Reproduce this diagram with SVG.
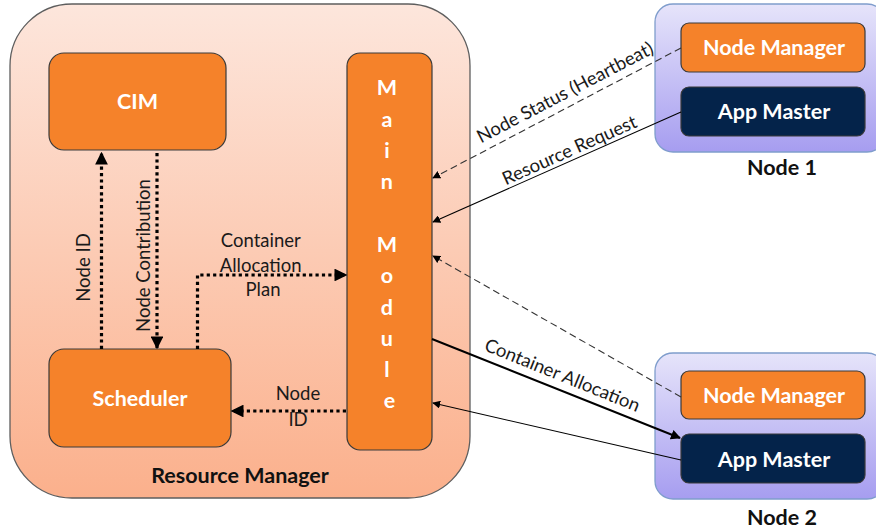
<svg xmlns="http://www.w3.org/2000/svg" width="876" height="531" viewBox="0 0 876 531">
  <defs>
    <linearGradient id="rmFill" x1="0" y1="0" x2="0" y2="1">
      <stop offset="0" stop-color="#fde6dc"/>
      <stop offset="1" stop-color="#fbb08c"/>
    </linearGradient>
    <linearGradient id="nodeFill" x1="0" y1="0" x2="0" y2="1">
      <stop offset="0" stop-color="#e6e4fa"/>
      <stop offset="1" stop-color="#a69df0"/>
    </linearGradient>
    <marker id="ahDot" viewBox="0 0 10 10" refX="9" refY="5" markerWidth="4" markerHeight="4" markerUnits="strokeWidth" orient="auto">
      <path d="M0,0 L10,5 L0,10 z" fill="#000"/>
    </marker>
    <marker id="ahThin" viewBox="0 0 10 10" refX="9" refY="5" markerWidth="8" markerHeight="8" markerUnits="userSpaceOnUse" orient="auto">
      <path d="M0,0 L10,5 L0,10 z" fill="#000"/>
    </marker>
    <marker id="ahThick" viewBox="0 0 10 10" refX="9" refY="5" markerWidth="10" markerHeight="10" markerUnits="userSpaceOnUse" orient="auto">
      <path d="M0,0 L10,5 L0,10 z" fill="#000"/>
    </marker>
  </defs>
  <style>
    .box { fill: #f5822a; stroke: #3a3a3a; stroke-width: 1.2; }
    .navy { fill: #04234a; stroke: #3a3a3a; stroke-width: 1.2; }
    .wlabel { font-family: Lato, "Open Sans", sans-serif; font-weight: bold; font-size: 21.5px; fill: #ffffff; text-anchor: middle; }
    .blabel { font-family: Lato, "Open Sans", sans-serif; font-weight: bold; font-size: 21.5px; fill: #111111; text-anchor: middle; }
    .elabel { font-family: Lato, "Open Sans", sans-serif; font-size: 18.5px; fill: #1a1a1a; text-anchor: middle; }
    .dotted { fill: none; stroke: #000; stroke-width: 3.2; stroke-dasharray: 3.2 3.2; }
    .dashed { fill: none; stroke: #333; stroke-width: 1.1; stroke-dasharray: 7 4; }
    .solid { fill: none; stroke: #000; stroke-width: 1.1; }
    .bold { fill: none; stroke: #000; stroke-width: 2; }
  </style>

  <!-- Resource Manager container -->
  <g id="resource-manager">
    <rect x="10" y="4" width="460" height="494" rx="62" fill="url(#rmFill)" stroke="#5e5e5e" stroke-width="1.3"/>
    <text class="blabel" x="240" y="483">Resource Manager</text>
  </g>

  <g id="cim">
    <rect class="box" x="49" y="53" width="177" height="97" rx="15"/>
    <text class="wlabel" x="137.5" y="109">CIM</text>
  </g>

  <g id="scheduler">
    <rect class="box" x="49" y="349" width="182" height="98" rx="15"/>
    <text class="wlabel" x="140" y="405.5">Scheduler</text>
  </g>

  <g id="main-module">
    <rect class="box" x="347" y="53" width="85" height="397" rx="13"/>
    <text class="wlabel" font-size="23">
      <tspan x="389.5" y="95">M</tspan>
      <tspan x="389.5" y="126.5">a</tspan>
      <tspan x="389.5" y="157.5">i</tspan>
      <tspan x="389.5" y="189">n</tspan>
      <tspan x="389.5" y="252">M</tspan>
      <tspan x="389.5" y="283">o</tspan>
      <tspan x="389.5" y="314.5">d</tspan>
      <tspan x="389.5" y="345.5">u</tspan>
      <tspan x="389.5" y="377">l</tspan>
      <tspan x="389.5" y="408">e</tspan>
    </text>
  </g>

  <!-- Worker nodes -->
  <g id="node1">
    <rect x="655" y="4" width="230" height="148" rx="18" fill="url(#nodeFill)" stroke="#7f9dcc" stroke-width="1.3"/>
    <text class="blabel" x="782" y="175">Node 1</text>
  </g>
  <g id="node1-node-manager">
    <rect class="box" x="681" y="23" width="184" height="49" rx="8"/>
    <text class="wlabel" x="774" y="54.5">Node Manager</text>
  </g>
  <g id="node1-app-master">
    <rect class="navy" x="681" y="87" width="184" height="49" rx="8"/>
    <text class="wlabel" x="774" y="119">App Master</text>
  </g>

  <g id="node2">
    <rect x="655" y="353" width="230" height="146" rx="18" fill="url(#nodeFill)" stroke="#7f9dcc" stroke-width="1.3"/>
    <text class="blabel" x="782" y="525">Node 2</text>
  </g>
  <g id="node2-node-manager">
    <rect class="box" x="681" y="371" width="184" height="48" rx="8"/>
    <text class="wlabel" x="774" y="403">Node Manager</text>
  </g>
  <g id="node2-app-master">
    <rect class="navy" x="681" y="434" width="184" height="49" rx="8"/>
    <text class="wlabel" x="774" y="467">App Master</text>
  </g>

  <!-- Connectors -->
  <g id="connectors">
    <!-- internal dotted flows -->
    <line class="dotted" x1="101.5" y1="349" x2="101.5" y2="153" marker-end="url(#ahDot)"/>
    <line class="dotted" x1="157" y1="153" x2="157" y2="348" marker-end="url(#ahDot)"/>
    <polyline class="dotted" points="197.5,349 197.5,275 346,275" marker-end="url(#ahDot)"/>
    <line class="dotted" x1="346" y1="411" x2="232" y2="411" marker-end="url(#ahDot)"/>

    <!-- node traffic -->
    <line class="dashed" x1="681" y1="48" x2="433" y2="178" marker-end="url(#ahThin)"/>
    <line class="solid" x1="681" y1="112" x2="433" y2="222" marker-end="url(#ahThin)"/>
    <line class="dashed" x1="681" y1="397" x2="433" y2="256" marker-end="url(#ahThin)"/>
    <line class="bold" x1="432" y1="339" x2="680" y2="438" marker-end="url(#ahThick)"/>
    <line class="solid" x1="681" y1="460" x2="433" y2="403" marker-end="url(#ahThin)"/>

    <!-- labels -->
    <text class="elabel" transform="translate(90,267.5) rotate(-90)">Node ID</text>
    <text class="elabel" transform="translate(150,255.5) rotate(-90)">Node Contribution</text>
    <text class="elabel">
      <tspan x="263" y="247">Container</tspan>
      <tspan x="263" y="272">Allocation</tspan>
      <tspan x="263" y="296">Plan</tspan>
    </text>
    <text class="elabel" x="298" y="400">Node</text>
    <text class="elabel" x="298" y="426">ID</text>
    <text class="elabel" transform="translate(568,98) rotate(-27.6)">Node Status (Heartbeat)</text>
    <text class="elabel" transform="translate(572,156) rotate(-24)">Resource Request</text>
    <text class="elabel" transform="translate(560,381) rotate(22)">Container Allocation</text>
  </g>
</svg>
